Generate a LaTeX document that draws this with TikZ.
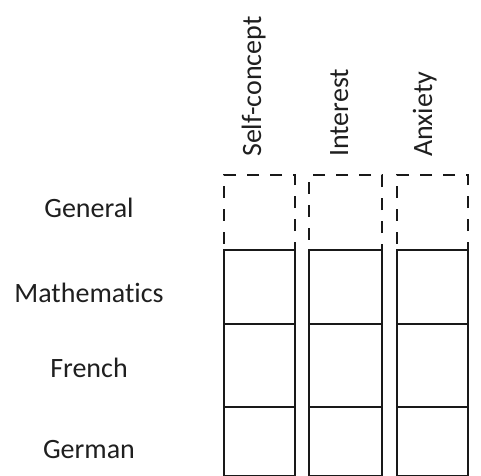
\documentclass[tikz,border=0pt]{standalone}
\usepackage{fontspec}
\setmainfont[Ligatures=NoCommon]{Carlito}
\begin{document}
\begin{tikzpicture}[x=1pt,y=-1pt,
  lbl/.style={font=\fontsize{28}{32}\selectfont, text=black!88, inner sep=0pt},
  collbl/.style={lbl, rotate=90, anchor=base west},
  rowlbl/.style={lbl, anchor=base},
  cell/.style={draw=black!90, line width=2.7pt, rectangle, inner sep=0pt, outer sep=0pt},
  dcell/.style={cell, dash pattern=on 12pt off 11pt, dash phase=2pt}]
\useasboundingbox (0,0) rectangle (481,475);
\begin{scope}
\clip (0,0) rectangle (481,475);
% three columns: left edge, width, name
\foreach \xl/\w/\n in {224/71/sc, 309/73/in, 397/71/an}{
  \node[dcell, minimum width=\w, minimum height=75, anchor=north west] (\n-gen) at (\xl,175) {};
  \node[cell, minimum width=\w, minimum height=74, anchor=north west] (\n-mat) at (\xl,250) {};
  \node[cell, minimum width=\w, minimum height=83, anchor=north west] (\n-fre) at (\xl,324) {};
  \node[cell, minimum width=\w, minimum height=69, anchor=north west] (\n-ger) at (\xl,407) {};
}
\end{scope}
% column headings
\node[collbl] (hsc) at (261,157) {Self-concept};
\node[collbl] (hin) at (348,157) {Interest};
\node[collbl] (han) at (432,157) {Anxiety};
% row headings
\node[rowlbl] (rgen) at (89,217) {General};
\node[rowlbl] (rmat) at (89,302) {Mathematics};
\node[rowlbl] (rfre) at (89,377) {French};
\node[rowlbl] (rger) at (89,458) {German};
\end{tikzpicture}
\end{document}
